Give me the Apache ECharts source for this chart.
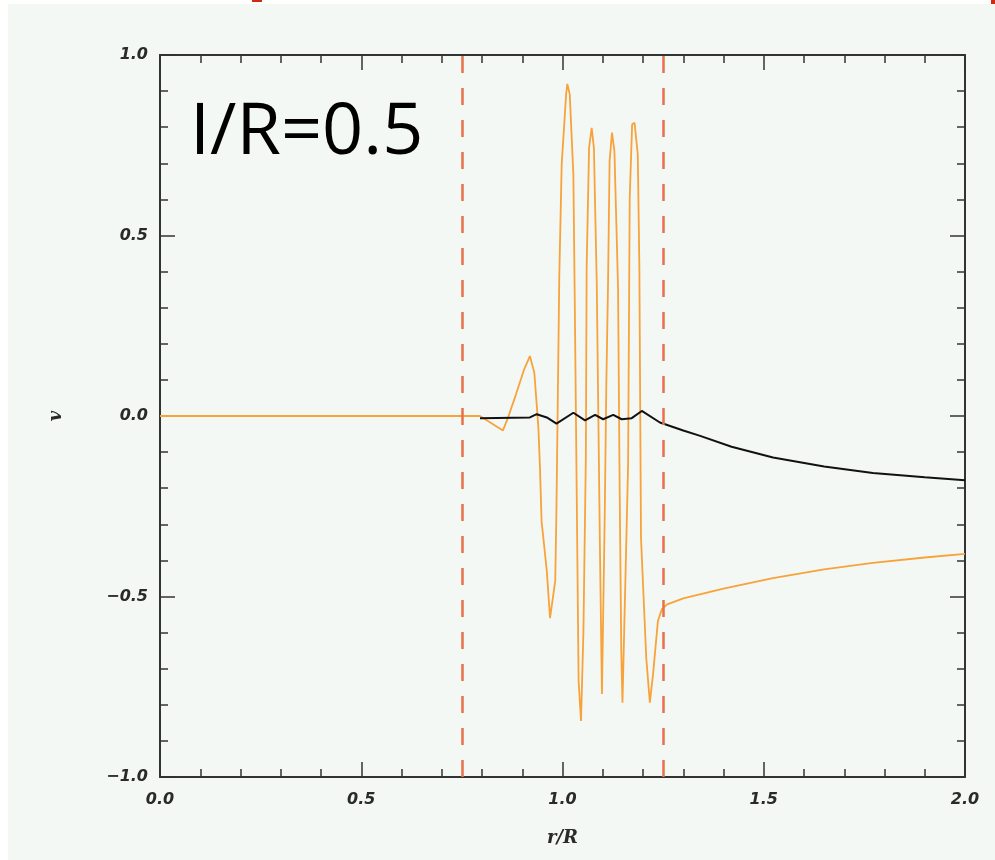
<!DOCTYPE html>
<html>
<head>
<meta charset="utf-8">
<script src="https://cdn.jsdelivr.net/npm/echarts@6/dist/echarts.min.js"></script>
<style>
  html, body { margin: 0; padding: 0; background: #ffffff; }
  #chart { width: 995px; height: 860px; }
</style>
</head>
<body>
<div id="chart"></div>
<script>
// Radial profile of v against r/R for I/R = 0.5
const xTicks = [0.0, 0.5, 1.0, 1.5, 2.0];
const yTicks = [-1.0, -0.5, 0.0, 0.5, 1.0];
const boundaries = [0.75, 1.25];

// orange trace: r/R, v
const orangeR = [0.0, 0.795, 0.852, 0.8645, 0.8845, 0.905, 0.919, 0.93, 0.940, 0.944, 0.948, 0.961,
  0.969, 0.982, 0.985, 0.9921, 0.998, 1.009, 1.012, 1.018, 1.027, 1.031, 1.040, 1.046,
  1.052, 1.058, 1.060, 1.066, 1.0725, 1.078, 1.085, 1.093, 1.098, 1.105, 1.109, 1.113, 1.117,
  1.123, 1.129, 1.138, 1.142, 1.146, 1.149, 1.157, 1.163, 1.167, 1.173, 1.179, 1.187, 1.191,
  1.195, 1.208, 1.217, 1.225, 1.237, 1.247, 1.26, 1.3, 1.4, 1.523, 1.65, 1.771, 1.9, 2.0];
const orangeV = [0.0, 0.0, -0.04, -0.005, 0.06, 0.13, 0.166, 0.12, -0.03, -0.143, -0.291, -0.429,
  -0.56, -0.457, -0.254, 0.392, 0.697, 0.891, 0.92, 0.891, 0.669, 0.263, -0.734, -0.845,
  -0.596, -0.115, 0.411, 0.743, 0.798, 0.743, 0.374, -0.365, -0.77, -0.27, 0.097, 0.356, 0.706,
  0.785, 0.734, 0.356, -0.199, -0.651, -0.794, -0.42, -0.134, 0.604, 0.808, 0.812, 0.725, 0.411,
  -0.337, -0.669, -0.794, -0.715, -0.568, -0.535, -0.522, -0.505, -0.478, -0.449, -0.425, -0.407, -0.392, -0.382];

// black trace: r/R, v
const blackR = [0.795, 0.919, 0.936, 0.961, 0.985, 1.027, 1.056, 1.081, 1.101, 1.126, 1.147, 1.172,
  1.197, 1.242, 1.3, 1.342, 1.42, 1.523, 1.65, 1.771, 1.9, 2.0];
const blackV = [-0.006, -0.004, 0.005, -0.004, -0.021, 0.009, -0.012, 0.003, -0.009, 0.003, -0.009, -0.006,
  0.014, -0.018, -0.04, -0.055, -0.085, -0.115, -0.14, -0.158, -0.17, -0.178];

const pair = (xs, ys) => xs.map((x, i) => [x, ys[i]]);

const labelStyle = {
  fontFamily: 'DejaVu Sans', fontStyle: 'italic', fontWeight: 'bold',
  fontSize: 16, color: '#2a2a2a'
};
const lineCol = '#333';

function frameAxis(extra) {
  return Object.assign({
    type: 'value',
    axisLine: { show: true, onZero: false, lineStyle: { color: lineCol, width: 2 } },
    axisTick: { show: true, inside: true, length: 15, lineStyle: { color: lineCol, width: 1.5 } },
    minorTick: { show: true, splitNumber: 5, length: 8, lineStyle: { color: lineCol, width: 1.5 } },
    splitLine: { show: false },
    minorSplitLine: { show: false }
  }, extra);
}

const chart = echarts.init(document.getElementById('chart'), null, { renderer: 'canvas' });
chart.setOption({
  backgroundColor: '#ffffff',
  animation: false,
  graphic: [
    { type: 'rect', z: -10, shape: { x: 8, y: 4, width: 987, height: 856 }, style: { fill: '#f4f8f5' } },
    { type: 'rect', shape: { x: 252, y: 0, width: 10, height: 2 }, style: { fill: '#d02a10' } },
    { type: 'rect', shape: { x: 991, y: 0, width: 4, height: 4 }, style: { fill: '#d02a10' } },
    { type: 'text', left: 190, top: 97,
      style: { text: 'I/R=0.5', font: '72px "Open Sans"', fill: '#000' } }
  ],
  grid: { left: 160, right: 30, top: 55, bottom: 83 },
  xAxis: [
    frameAxis({
      min: 0, max: 2, interval: 0.5, position: 'bottom',
      name: 'r/R', nameLocation: 'middle', nameGap: 52,
      nameTextStyle: { fontFamily: 'DejaVu Serif', fontStyle: 'italic', fontWeight: 'bold', fontSize: 18, color: '#2a2a2a' },
      axisLabel: Object.assign({ margin: 15, formatter: v => xTicks.includes(v) ? v.toFixed(1) : '' }, labelStyle)
    }),
    frameAxis({ min: 0, max: 2, interval: 0.5, position: 'top', axisLabel: { show: false } })
  ],
  yAxis: [
    frameAxis({
      min: -1, max: 1, interval: 0.5, position: 'left',
      name: 'v', nameLocation: 'middle', nameGap: 95, nameRotate: 90,
      nameTextStyle: { fontFamily: 'DejaVu Serif', fontStyle: 'italic', fontWeight: 'bold', fontSize: 18, color: '#2a2a2a' },
      axisLabel: Object.assign({ margin: 12,
        formatter: v => yTicks.includes(v) ? (v < 0 ? '\u2212' + Math.abs(v).toFixed(1) : v.toFixed(1)) : '' }, labelStyle)
    }),
    frameAxis({ min: -1, max: 1, interval: 0.5, position: 'right', axisLabel: { show: false } })
  ],
  series: [
    {
      type: 'line', name: 'boundaries', data: [], symbol: 'none',
      markLine: {
        silent: true, symbol: 'none', label: { show: false },
        lineStyle: { color: '#e8704a', width: 2.5, type: [17, 15] },
        data: boundaries.map(b => ({ xAxis: b }))
      }
    },
    {
      type: 'line', name: 'orange', data: pair(orangeR, orangeV), symbol: 'none',
      lineStyle: { color: '#f8a23a', width: 1.8 }
    },
    {
      type: 'line', name: 'black', data: pair(blackR, blackV), symbol: 'none',
      lineStyle: { color: '#111', width: 2 }
    }
  ]
});
</script>
</body>
</html>
